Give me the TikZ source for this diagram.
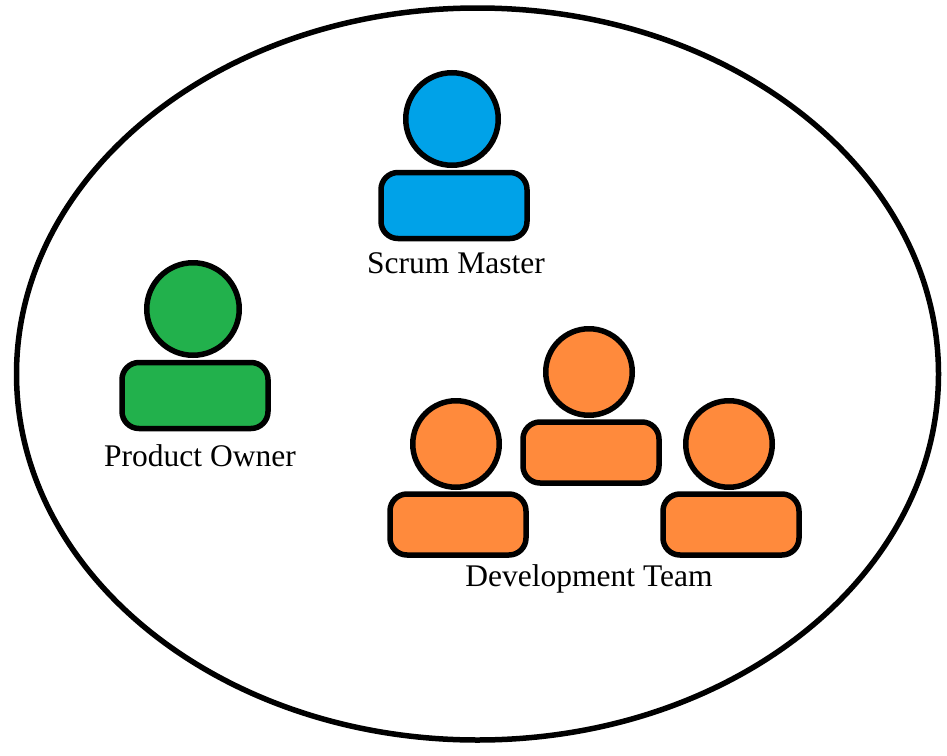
\documentclass[tikz,border=0pt]{standalone}
\usepackage{fontspec}
\setmainfont{Liberation Serif}
\definecolor{scrumblue}{HTML}{00A2E8}
\definecolor{ownergreen}{HTML}{22B14C}
\definecolor{devorange}{HTML}{FF8A3C}
\begin{document}
\begin{tikzpicture}[
  x=1pt, y=-1pt, line width=5.5pt,
  head/.style={circle, draw=black, minimum size=92.5pt, inner sep=0pt},
  body/.style={rectangle, rounded corners=17pt, draw=black, minimum width=146pt, minimum height=66pt, inner sep=0pt},
  headsmall/.style={head, minimum size=86.5pt},
  bodysmall/.style={body, minimum width=136pt, minimum height=61pt},
  caption/.style={inner sep=0pt, font=\fontsize{31.5pt}{34pt}\selectfont},
]
  \useasboundingbox (0,0) rectangle (947,755);
  % team boundary
  \draw (477.5,374) ellipse [x radius=461, y radius=366];

  % scrum master
  \node[body, fill=scrumblue] (masterbody) at (454,205.5) {};
  \node[head, fill=scrumblue] (masterhead) at (452,119) {};
  \node[caption] (mastertext) at (456,263) {Scrum Master};

  % product owner
  \node[body, fill=ownergreen] (ownerbody) at (195,395.5) {};
  \node[head, fill=ownergreen] (ownerhead) at (193,309) {};
  \node[caption] (ownertext) at (200,456) {Product Owner};

  % development team
  \node[bodysmall, fill=devorange] (devbodyb) at (591,452.5) {};
  \node[headsmall, fill=devorange] (devheadb) at (589,372) {};
  \node[bodysmall, fill=devorange] (devbodya) at (458,524.5) {};
  \node[headsmall, fill=devorange] (devheada) at (456,444) {};
  \node[bodysmall, fill=devorange] (devbodyc) at (731,524.5) {};
  \node[headsmall, fill=devorange] (devheadc) at (729,444) {};
  \node[caption] (devtext) at (589,579) {Development Team};
\end{tikzpicture}
\end{document}
